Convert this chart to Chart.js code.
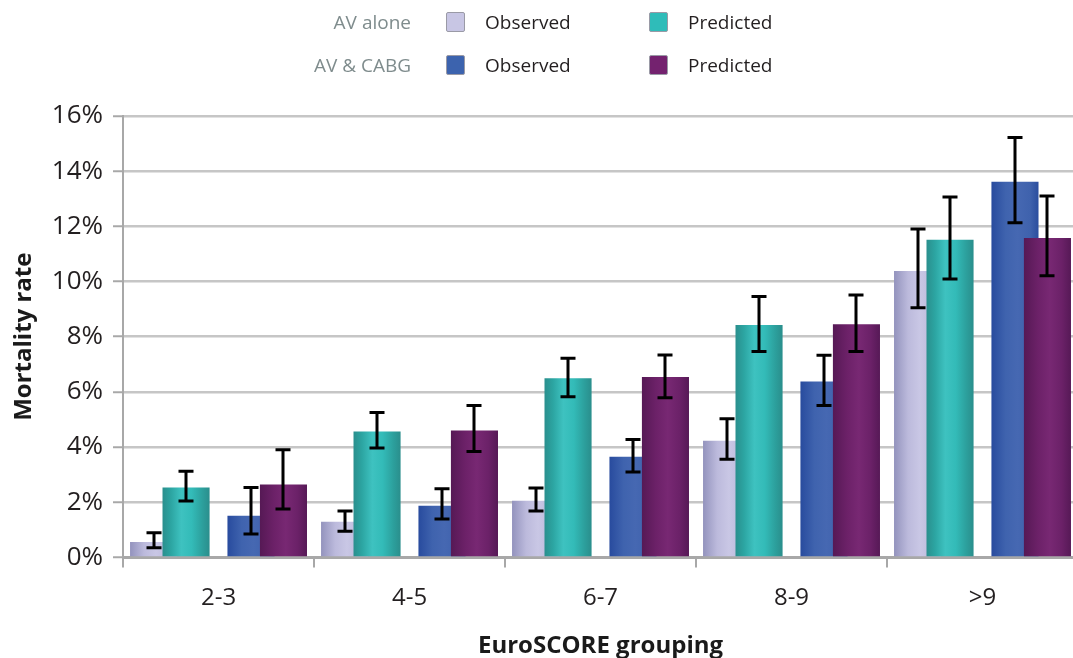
<!DOCTYPE html>
<html>
<head>
<meta charset="utf-8">
<script src="https://cdn.jsdelivr.net/npm/chart.js@4/dist/chart.umd.min.js"></script>
<style>
    html, body { margin: 0; padding: 0; overflow: hidden; background: #fff; }
    body { width: 1073px; height: 658px; position: relative; font-family: 'Open Sans', sans-serif; }
    #wrap { position: absolute; left: 0; top: 0; width: 1078px; height: 661px; }
    .leyenda { position: absolute; left: 0; top: 0; font-size: 19px; color: #231f20; }
    .leyenda .fila { position: absolute; height: 24px; line-height: 24px; white-space: nowrap; }
    .leyenda .grupo { position: absolute; width: 200px; text-align: right; color: #7f8c8d; }
    .leyenda .caja { position: absolute; width: 17px; height: 18px; border: 1px solid #9a9aa6; border-radius: 2px; top: 2px; }
    .leyenda .texto { position: absolute; }
</style>
</head>
<body>
<div id="wrap">
    <canvas id="myChart" width="1078" height="661"></canvas>
</div>
<div class="leyenda" id="leyenda"></div>
<script>
// EuroSCORE groups and mortality rates (%), with the ends of each error bar
const categorias = ['2-3', '4-5', '6-7', '8-9', '>9'];

const avSoloObservado = [0.56, 1.29, 2.05, 4.23, 10.38];
const avSoloObservadoMin = [0.35, 0.95, 1.68, 3.56, 9.05];
const avSoloObservadoMax = [0.89, 1.68, 2.52, 5.03, 11.90];

const avSoloPredicho = [2.53, 4.56, 6.49, 8.42, 11.51];
const avSoloPredichoMin = [2.04, 3.97, 5.82, 7.46, 10.09];
const avSoloPredichoMax = [3.12, 5.25, 7.22, 9.46, 13.06];

const avCabgObservado = [1.51, 1.87, 3.65, 6.38, 13.62];
const avCabgObservadoMin = [0.85, 1.39, 3.10, 5.51, 12.13];
const avCabgObservadoMax = [2.53, 2.49, 4.27, 7.33, 15.22];

const avCabgPredicho = [2.64, 4.60, 6.54, 8.45, 11.58];
const avCabgPredichoMin = [1.75, 3.84, 5.79, 7.46, 10.21];
const avCabgPredichoMax = [3.90, 5.51, 7.34, 9.51, 13.10];

const marcasY = [0, 2, 4, 6, 8, 10, 12, 14, 16];

// cylinder shading for each series, left to right across the bar
const sombras = {
    lavanda: [[0, '#9393bd'], [0.3, '#bcbadc'], [0.55, '#c9c7e5'], [1, '#b4b2d6']],
    turquesa: [[0, '#2a8f8d'], [0.18, '#2ca5a2'], [0.4, '#3ec2c0'], [0.62, '#33bbb8'], [0.85, '#2c9f9c'], [1, '#2a8e8c']],
    azul: [[0, '#284b9e'], [0.3, '#3f63ae'], [0.55, '#4668b2'], [0.82, '#3f62ad'], [1, '#2a4d9e']],
    morado: [[0, '#561955'], [0.3, '#6c2168'], [0.55, '#782873'], [0.8, '#6b2168'], [1, '#561956']]
};

const datasets = [{
    label: 'Observed', grupo: 'AV alone', color: '#c8c6e4', sombra: sombras.lavanda,
    data: avSoloObservado, min: avSoloObservadoMin, max: avSoloObservadoMax
}, {
    label: 'Predicted', grupo: 'AV alone', color: '#2fbcb9', sombra: sombras.turquesa,
    data: avSoloPredicho, min: avSoloPredichoMin, max: avSoloPredichoMax
}, {
    // empty slot that separates the two procedure pairs
    label: '', grupo: '', color: 'rgba(0,0,0,0)', sombra: null,
    data: categorias.map(() => null)
}, {
    label: 'Observed', grupo: 'AV & CABG', color: '#3c63ae', sombra: sombras.azul,
    data: avCabgObservado, min: avCabgObservadoMin, max: avCabgObservadoMax
}, {
    label: 'Predicted', grupo: 'AV & CABG', color: '#74226f', sombra: sombras.morado,
    data: avCabgPredicho, min: avCabgPredichoMin, max: avCabgPredichoMax
}].map(d => Object.assign(d, {
    backgroundColor: d.color,
    borderWidth: 0,
    categoryPercentage: 0.85,
    barPercentage: 1.45
}));

// bars are painted left to right so each one sits over its left neighbour,
// then the error bars go on top of everything
const pintarBarras = {
    id: 'pintarBarras',
    beforeDatasetDraw() {
        return false;
    },
    afterDatasetsDraw(chart) {
        const ctx = chart.ctx;
        const escalaY = chart.scales.y;
        const metas = chart.data.datasets.map((d, i) => chart.getDatasetMeta(i));

        metas.forEach((meta, i) => {
            const ds = chart.data.datasets[i];
            if (!ds.sombra) return;
            meta.data.forEach(barra => {
                const x = barra.x, w = barra.width;
                const g = ctx.createLinearGradient(x - w / 2, 0, x + w / 2, 0);
                ds.sombra.forEach(s => g.addColorStop(s[0], s[1]));
                const original = barra.options;
                barra.options = Object.assign({}, original, { backgroundColor: g });
                barra.draw(ctx, chart.chartArea);
                barra.options = original;
            });
        });

        ctx.save();
        ctx.strokeStyle = '#000';
        ctx.lineWidth = 3;
        ctx.lineCap = 'butt';
        metas.forEach((meta, i) => {
            const ds = chart.data.datasets[i];
            if (!ds.min) return;
            meta.data.forEach((barra, j) => {
                const x = Math.round(barra.x);
                const yMin = escalaY.getPixelForValue(ds.min[j]);
                const yMax = escalaY.getPixelForValue(ds.max[j]);
                ctx.beginPath();
                ctx.moveTo(x, yMin);
                ctx.lineTo(x, yMax);
                ctx.moveTo(x - 7.5, yMin);
                ctx.lineTo(x + 7.5, yMin);
                ctx.moveTo(x - 7.5, yMax);
                ctx.lineTo(x + 7.5, yMax);
                ctx.stroke();
            });
        });
        ctx.restore();
    }
};

Chart.defaults.font.family = "'Open Sans', sans-serif";
Chart.defaults.color = '#231f20';

const myChart = new Chart(document.getElementById('myChart'), {
    type: 'bar',
    data: {
        labels: categorias,
        datasets: datasets
    },
    options: {
        responsive: false,
        animation: false,
        layout: {
            padding: { top: 116, left: 6, right: 0, bottom: 0 }
        },
        plugins: {
            legend: { display: false },
            tooltip: { enabled: false }
        },
        scales: {
            x: {
                grid: {
                    display: true,
                    drawOnChartArea: false,
                    offset: true,
                    tickLength: 10,
                    color: '#a8a8a8',
                    lineWidth: 2
                },
                border: { color: '#a8a8a8', width: 3 },
                ticks: {
                    padding: 16,
                    font: { size: 24 },
                    color: '#231f20'
                },
                title: {
                    display: true,
                    text: 'EuroSCORE grouping',
                    font: { size: 24, weight: 'bold' },
                    color: '#1a1a1a',
                    padding: { top: 4, bottom: 0 }
                }
            },
            y: {
                min: 0,
                max: 16,
                afterBuildTicks(scale) {
                    scale.ticks = marcasY.map(v => ({ value: v }));
                },
                ticks: {
                    padding: 10,
                    font: { size: 26 },
                    color: '#231f20',
                    callback: v => v + '%'
                },
                grid: {
                    color: '#c6c6c6',
                    lineWidth: 2.5,
                    tickLength: 10,
                    tickColor: '#a8a8a8',
                    tickWidth: 2
                },
                border: { color: '#a8a8a8', width: 2 },
                title: {
                    display: true,
                    text: 'Mortality rate',
                    font: { size: 24, weight: 'bold' },
                    color: '#1a1a1a',
                    padding: { top: 4, bottom: 3 }
                }
            }
        }
    },
    plugins: [pintarBarras]
});

// legend laid out as two rows, one per procedure
const filas = { 'AV alone': 10, 'AV & CABG': 53 };
const columnas = { 'Observed': 446, 'Predicted': 649 };
const leyenda = document.getElementById('leyenda');
Object.keys(filas).forEach(grupo => {
    const fila = document.createElement('div');
    fila.className = 'fila';
    fila.style.top = filas[grupo] + 'px';
    fila.style.left = '0px';
    fila.style.width = '1073px';
    fila.innerHTML = '<span class="grupo" style="left:211px">' + grupo + '</span>';
    myChart.data.datasets.filter(d => d.grupo === grupo).forEach(d => {
        const x = columnas[d.label];
        fila.innerHTML += '<span class="caja" style="left:' + x + 'px;background:' + d.color + '"></span>' +
            '<span class="texto" style="left:' + (x + 39) + 'px">' + d.label + '</span>';
    });
    leyenda.appendChild(fila);
});
</script>
</body>
</html>
